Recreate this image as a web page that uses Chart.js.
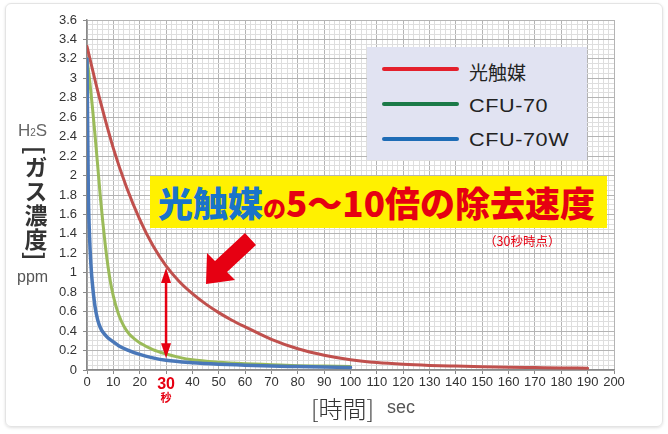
<!DOCTYPE html>
<html lang="ja">
<head>
<meta charset="utf-8">
<script src="https://cdn.jsdelivr.net/npm/chart.js@4"></script>
<style>
  html, body { margin: 0; padding: 0; background: #fff; }
  #wrap { position: relative; width: 668px; height: 434px; overflow: hidden; font-family: 'Noto Sans CJK JP', 'Liberation Sans', sans-serif; }
  #frame { position: absolute; left: 5px; top: 3px; width: 656px; height: 422px; border: 1px solid #e4e4e4; border-radius: 6px; box-shadow: 0 1px 3px rgba(0,0,0,0.12); }
  canvas { position: absolute; left: 0; top: 0; }
  .abs { position: absolute; white-space: nowrap; }
  #legend { left: 367px; top: 47px; width: 220px; height: 113px; background: #e1e3f2; }
  .lg-line { position: absolute; left: 382px; width: 77px; height: 4px; border-radius: 2px; }
  .lg-text { left: 469px; font-size: 19px; line-height: 20px; color: #222; }
  .lg-en { font-family: 'Liberation Sans', sans-serif; font-size: 18px; transform: scaleX(1.2); transform-origin: left center; letter-spacing: 0.5px; }
  #banner { left: 150px; top: 176px; width: 457px; height: 52px; background: #fff100; line-height: 52px; font-weight: 900; padding-left: 8px; box-sizing: border-box; }
</style>
</head>
<body>
<div id="wrap">
  <div id="frame"></div>
  <canvas id="chart" width="668" height="434"></canvas>

  <div class="abs" style="left:18px;top:121px;font-family:'Liberation Sans',sans-serif;font-size:17px;line-height:20px;color:#666">H<span style="font-size:10px">2</span>S</div>
  <div class="abs" style="left:24px;top:146px;writing-mode:vertical-rl;font-size:23px;line-height:24px;letter-spacing:1px;color:#333;font-weight:700">[ガス濃度]</div>
  <div class="abs" style="left:17px;top:267px;font-family:'Liberation Sans',sans-serif;font-size:16px;line-height:20px;color:#555">ppm</div>

  <div class="abs" style="left:311px;top:393px;font-size:24px;line-height:30px;color:#333;font-weight:300">[時間]</div>
  <div class="abs" style="left:387px;top:397px;font-family:'Liberation Sans',sans-serif;font-size:18px;line-height:20px;color:#555">sec</div>

  <div id="legend" class="abs"></div>
  <div class="lg-line" style="top:67px;background:#e4202c"></div>
  <div class="lg-line" style="top:102px;background:#1b7a48"></div>
  <div class="lg-line" style="top:137px;background:#1e6cb6"></div>
  <div class="abs lg-text" style="top:62px">光触媒</div>
  <div class="abs lg-text lg-en" style="top:96px">CFU-70</div>
  <div class="abs lg-text lg-en" style="top:130px">CFU-70W</div>

  <div id="banner" class="abs"><span style="color:#1a74c9;font-size:35px">光触媒</span><span style="color:#e60012;font-size:23px">の</span><span style="color:#e60012;font-size:35px">5～10倍の除去速度</span></div>
  <div class="abs" style="left:484px;top:233px;font-size:12.5px;line-height:16px;color:#e60012">（30秒時点）</div>
</div>

<script>
// H2S concentration (ppm) against time (sec)
const redX   = [0, 2, 5, 10, 15, 20, 25, 30, 35, 40, 45, 50, 55, 60, 70, 80, 90, 100, 110, 120, 130, 140, 150, 160, 170, 180, 190];
const redY   = [3.33, 3.1, 2.77, 2.28, 1.88, 1.55, 1.28, 1.07, 0.91, 0.785, 0.68, 0.59, 0.512, 0.444, 0.315, 0.218, 0.152, 0.106, 0.076, 0.058, 0.047, 0.04, 0.034, 0.029, 0.025, 0.021, 0.019];

const greenX = [0, 1, 2, 3, 4, 5, 6, 7, 8, 9, 10, 12, 14, 16, 18, 20, 25, 30, 35, 40, 50, 60, 70, 80, 90, 100];
const greenY = [3.2, 2.98, 2.72, 2.43, 2.12, 1.8, 1.52, 1.27, 1.06, 0.89, 0.76, 0.57, 0.45, 0.37, 0.32, 0.28, 0.21, 0.165, 0.13, 0.105, 0.08, 0.065, 0.055, 0.045, 0.04, 0.035];

const blueX  = [0, 0.5, 1, 1.5, 2, 3, 4, 5, 6, 8, 10, 12, 15, 20, 25, 30, 40, 50, 60, 70, 80, 90, 100];
const blueY  = [3.2, 1.85, 1.35, 1.08, 0.9, 0.66, 0.52, 0.44, 0.39, 0.33, 0.29, 0.25, 0.21, 0.16, 0.125, 0.1, 0.075, 0.06, 0.05, 0.04, 0.035, 0.03, 0.025];

const seriesNames = ['CFU-70W', 'CFU-70', '光触媒'];

// 30秒時点の比較矢印
const markX = 30;
const markTop = 1.05;
const markBottom = 0.12;

const pts = (xs, ys) => xs.map((x, i) => ({ x, y: ys[i] }));

const tickFont = { family: "'Liberation Sans Narrow', 'Liberation Sans', sans-serif", size: 13 };

const isMajorX = v => Math.round(v) % 10 === 0;
const isMajorY = v => Math.round(v * 100) % 20 === 0;

const annotations = {
  id: 'annotations',
  afterDatasetsDraw(chart) {
    const { ctx, scales: { x, y } } = chart;
    ctx.save();
    ctx.fillStyle = '#e60012';
    ctx.strokeStyle = '#e60012';

    // double arrow at 30 sec
    const ax = x.getPixelForValue(markX);
    const t = y.getPixelForValue(markTop);
    const b = y.getPixelForValue(markBottom);
    ctx.lineWidth = 2.5;
    ctx.beginPath();
    ctx.moveTo(ax, t + 10);
    ctx.lineTo(ax, b - 10);
    ctx.stroke();
    ctx.beginPath();
    ctx.moveTo(ax, t); ctx.lineTo(ax - 5, t + 15); ctx.lineTo(ax + 5, t + 15); ctx.closePath();
    ctx.fill();
    ctx.beginPath();
    ctx.moveTo(ax, b); ctx.lineTo(ax - 5, b - 15); ctx.lineTo(ax + 5, b - 15); ctx.closePath();
    ctx.fill();

    // big pointer arrow
    ctx.beginPath();
    ctx.moveTo(245, 233);
    ctx.lineTo(256, 245);
    ctx.lineTo(227, 272);
    ctx.lineTo(235, 280);
    ctx.lineTo(206, 284);
    ctx.lineTo(207, 253);
    ctx.lineTo(215, 261);
    ctx.closePath();
    ctx.fill();

    // 秒 under the 30 tick
    ctx.font = "bold 11px 'Noto Sans CJK JP', sans-serif";
    ctx.textAlign = 'center';
    ctx.textBaseline = 'middle';
    ctx.fillText('秒', ax, 398);
    ctx.restore();
  }
};

new Chart(document.getElementById('chart'), {
  type: 'line',
  data: {
    datasets: [
      { label: seriesNames[0], data: pts(blueX, blueY), borderColor: '#4a78b9', borderWidth: 3.5 },
      { label: seriesNames[1], data: pts(greenX, greenY), borderColor: '#9bbb59', borderWidth: 3 },
      { label: seriesNames[2], data: pts(redX, redY), borderColor: '#c0504d', borderWidth: 3 }
    ]
  },
  options: {
    responsive: false,
    animation: false,
    layout: { padding: { left: 47, right: 54, top: 20, bottom: 40 } },
    elements: {
      point: { radius: 0 },
      line: { cubicInterpolationMode: 'monotone', fill: false, borderCapStyle: 'round' }
    },
    plugins: { legend: { display: false }, tooltip: { enabled: false } },
    scales: {
      x: {
        type: 'linear', min: 0, max: 200,
        afterFit: s => { s.height = 24; },
        border: { color: '#8a8a8a', width: 1.5 },
        grid: {
          color: c => isMajorX(c.tick.value) ? '#b4b4b4' : '#dedede',
          tickColor: c => isMajorX(c.tick.value) ? '#8a8a8a' : 'rgba(0,0,0,0)',
          tickLength: 4
        },
        ticks: {
          stepSize: 2, autoSkip: false, maxRotation: 0, padding: 1,
          color: c => c.tick && c.tick.value === 30 ? '#e60012' : '#333',
          font: c => c.tick && c.tick.value === 30
            ? { family: "'Liberation Sans', sans-serif", size: 16, weight: 'bold' }
            : tickFont,
          callback: v => isMajorX(v) ? String(Math.round(v)) : ''
        }
      },
      y: {
        type: 'linear', min: 0, max: 3.6,
        afterFit: s => { s.width = 40; },
        border: { color: '#8a8a8a', width: 1.5 },
        grid: {
          color: c => isMajorY(c.tick.value) ? '#b4b4b4' : '#dedede',
          tickColor: c => isMajorY(c.tick.value) ? '#8a8a8a' : 'rgba(0,0,0,0)',
          tickLength: 4
        },
        ticks: {
          stepSize: 0.05, autoSkip: false, padding: 6, color: '#333', font: tickFont,
          callback: v => isMajorY(v) ? String(Math.round(v * 10) / 10) : ''
        }
      }
    }
  },
  plugins: [annotations]
});
</script>
</body>
</html>
